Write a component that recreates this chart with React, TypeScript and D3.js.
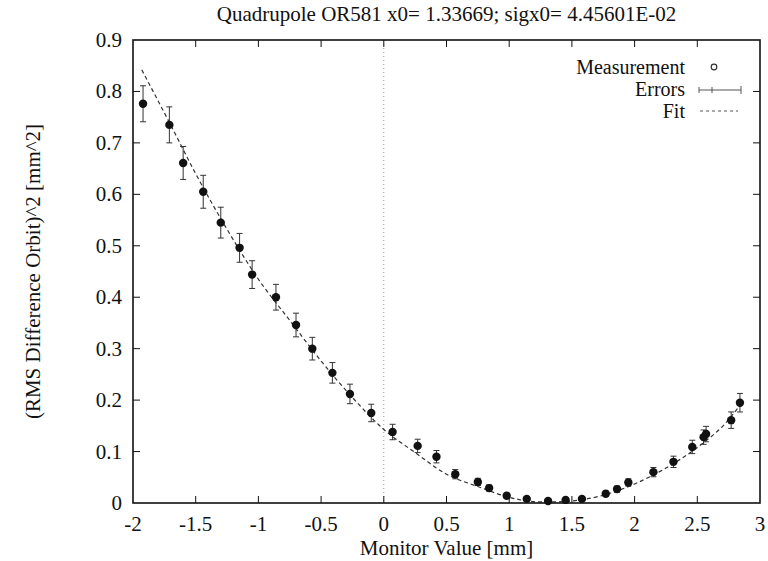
import React from "react";
import * as d3 from "d3";

const titleText = "Quadrupole OR581 x0= 1.33669; sigx0= 4.45601E-02";
const xTicks = [-2, -1.5, -1, -0.5, 0, 0.5, 1, 1.5, 2, 2.5, 3];
const xTickLabels = ["-2", "-1.5", "-1", "-0.5", "0", "0.5", "1", "1.5", "2", "2.5", "3"];
const yTicks = [0, 0.1, 0.2, 0.3, 0.4, 0.5, 0.6, 0.7, 0.8, 0.9];
const yTickLabels = ["0", "0.1", "0.2", "0.3", "0.4", "0.5", "0.6", "0.7", "0.8", "0.9"];

const measX = [-1.92, -1.71, -1.6, -1.44, -1.3, -1.15, -1.05, -0.86, -0.7, -0.57, -0.41, -0.27, -0.1, 0.07, 0.27, 0.42, 0.57, 0.75, 0.84, 0.98, 1.14, 1.31, 1.45, 1.58, 1.77, 1.86, 1.95, 2.15, 2.31, 2.46, 2.55, 2.57, 2.77, 2.84];
const measY = [0.776, 0.735, 0.661, 0.605, 0.545, 0.496, 0.444, 0.4, 0.346, 0.3, 0.253, 0.212, 0.175, 0.138, 0.111, 0.09, 0.056, 0.041, 0.029, 0.014, 0.008, 0.004, 0.006, 0.008, 0.018, 0.027, 0.04, 0.06, 0.08, 0.109, 0.128, 0.134, 0.161, 0.195];
const measErr = [0.035, 0.035, 0.032, 0.032, 0.03, 0.028, 0.027, 0.025, 0.023, 0.022, 0.02, 0.019, 0.017, 0.015, 0.013, 0.012, 0.009, 0.007, 0.006, 0.005, 0.004, 0.003, 0.003, 0.004, 0.005, 0.006, 0.007, 0.009, 0.011, 0.013, 0.014, 0.015, 0.016, 0.018];

const fitX = [-1.93, -1.7, -1.5, -1.25, -1.0, -0.75, -0.5, -0.25, 0, 0.25, 0.5, 0.75, 1.0, 1.25, 1.34, 1.5, 1.75, 2.0, 2.25, 2.5, 2.75, 2.84];
const fitY = [0.842, 0.735, 0.64, 0.532, 0.435, 0.355, 0.276, 0.205, 0.143, 0.098, 0.056, 0.032, 0.011, 0.002, 0.002, 0.004, 0.015, 0.037, 0.068, 0.108, 0.162, 0.19];

const legendLabels = ["Measurement", "Errors", "Fit"];

const W = 768;
const H = 561;
const L = 133;
const R = 760;
const T = 40;
const B = 503;
const FONT = "Liberation Serif, DejaVu Serif, Times New Roman, serif";

export default function App() {
  const x = d3.scaleLinear().domain([-2, 3]).range([L, R]);
  const y = d3.scaleLinear().domain([0, 0.9]).range([B, T]);
  const fitLine = d3
    .line<number>()
    .x((_, i) => x(fitX[i]))
    .y((d) => y(d))
    .curve(d3.curveMonotoneX);
  const tl = 7;
  const ink = "#111";
  return (
    <svg width={W} height={H} style={{ position: "absolute", left: 0, top: 0, background: "#fff", fontFamily: FONT }}>
      <rect x={0} y={0} width={W} height={H} fill="#fff" />
      <text x={(L + R) / 2} y={21} fontSize={21} textAnchor="middle" fill={ink}>{titleText}</text>
      {/* zero line */}
      <line x1={x(0)} x2={x(0)} y1={T} y2={B} stroke="#999" strokeWidth={1} strokeDasharray="1,3" />
      {/* ticks */}
      {xTicks.map((t, i) => (
        <g key={"xt" + i}>
          {i > 0 && i < xTicks.length - 1 && (
            <>
              <line x1={x(t)} x2={x(t)} y1={B} y2={B - tl} stroke={ink} strokeWidth={1} />
              <line x1={x(t)} x2={x(t)} y1={T} y2={T + tl} stroke={ink} strokeWidth={1} />
            </>
          )}
          <text x={x(t)} y={B + 28} fontSize={21} textAnchor="middle" fill={ink}>{xTickLabels[i]}</text>
        </g>
      ))}
      {yTicks.map((t, i) => (
        <g key={"yt" + i}>
          {i > 0 && i < yTicks.length - 1 && (
            <>
              <line x1={L} x2={L + tl} y1={y(t)} y2={y(t)} stroke={ink} strokeWidth={1} />
              <line x1={R} x2={R - tl} y1={y(t)} y2={y(t)} stroke={ink} strokeWidth={1} />
            </>
          )}
          <text x={L - 11} y={y(t) + 7} fontSize={21} textAnchor="end" fill={ink}>{yTickLabels[i]}</text>
        </g>
      ))}
      {/* axis titles */}
      <text x={(L + R) / 2} y={555} fontSize={21} textAnchor="middle" fill={ink}>Monitor Value [mm]</text>
      <text transform={`translate(40,${(T + B) / 2}) rotate(-90)`} fontSize={21} textAnchor="middle" fill={ink}>
        (RMS Difference Orbit)^2 [mm^2]
      </text>
      {/* fit */}
      <path d={fitLine(fitY) || ""} fill="none" stroke="#333" strokeWidth={1.2} strokeDasharray="4,3" />
      {/* error bars */}
      {measX.map((xv, i) => {
        const cx = x(xv);
        const y1 = y(measY[i] - measErr[i]);
        const y2 = y(measY[i] + measErr[i]);
        return (
          <g key={"e" + i} stroke="#333" strokeWidth={1}>
            <line x1={cx} x2={cx} y1={y1} y2={y2} />
            <line x1={cx - 3} x2={cx + 3} y1={y1} y2={y1} />
            <line x1={cx - 3} x2={cx + 3} y1={y2} y2={y2} />
          </g>
        );
      })}
      {/* points */}
      {measX.map((xv, i) => (
        <circle key={"p" + i} cx={x(xv)} cy={y(measY[i])} r={4.2} fill="#111" />
      ))}
      {/* frame */}
      <rect x={L} y={T} width={R - L} height={B - T} fill="none" stroke={ink} strokeWidth={1.6} />
      {/* legend */}
      <text x={685} y={74} fontSize={20} textAnchor="end" fill={ink}>{legendLabels[0]}</text>
      <circle cx={714} cy={67} r={2.8} fill="none" stroke="#333" strokeWidth={1.2} />
      <text x={685} y={96} fontSize={20} textAnchor="end" fill={ink}>{legendLabels[1]}</text>
      <g stroke="#555" strokeWidth={1}>
        <line x1={699} x2={741} y1={90} y2={90} />
        <line x1={699} x2={699} y1={87} y2={93} />
        <line x1={712} x2={712} y1={87} y2={93} />
        <line x1={741} x2={741} y1={86} y2={94} />
      </g>
      <text x={685} y={118} fontSize={20} textAnchor="end" fill={ink}>{legendLabels[2]}</text>
      <line x1={700} x2={738} y1={111} y2={111} stroke="#555" strokeWidth={1} strokeDasharray="3,3" />
    </svg>
  );
}
